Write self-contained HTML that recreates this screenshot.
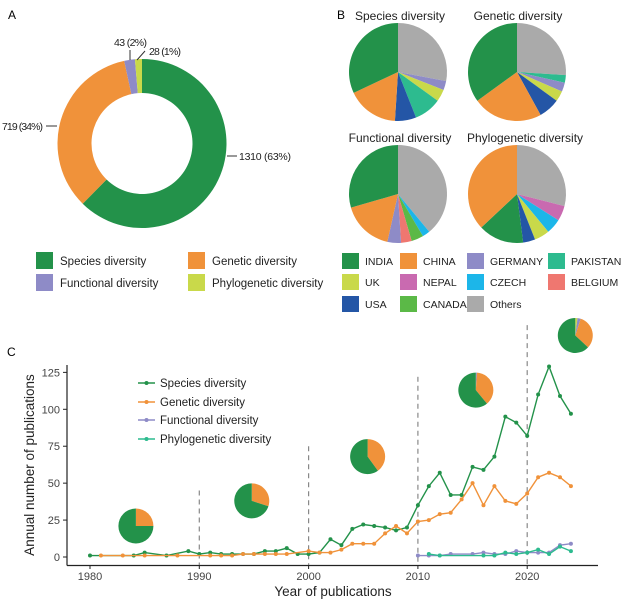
<!DOCTYPE html>
<html><head><meta charset="utf-8"><style>
body{margin:0;background:#fff;font-family:"Liberation Sans",sans-serif;}
svg text{font-family:"Liberation Sans",sans-serif;}
</style></head><body>
<svg id="fig" width="622" height="601" viewBox="0 0 622 601" xmlns="http://www.w3.org/2000/svg">
<text x="8" y="19" font-size="12">A</text>
<text x="337" y="19" font-size="12">B</text>
<text x="7" y="356" font-size="12">C</text>
<g id="donut"></g>
<g id="donutLabels" font-size="10.5" fill="#222">
<line x1="227" y1="156" x2="237" y2="156" stroke="#333"/><text x="239" y="160" textLength="52">1310 (63%)</text>
<line x1="46" y1="126" x2="57" y2="126" stroke="#333"/><text x="2" y="130" textLength="41">719 (34%)</text>
<line x1="130" y1="50" x2="130" y2="60" stroke="#333"/><text x="114" y="46" textLength="33">43 (2%)</text>
<line x1="137" y1="60" x2="145" y2="51" stroke="#333"/><text x="149" y="55" textLength="32">28 (1%)</text>
</g>
<g id="legendA" font-size="11.5" fill="#222">
<rect x="36" y="252" width="17" height="17" fill="#23924a"/><text x="60" y="265">Species diversity</text>
<rect x="188" y="252" width="17" height="17" fill="#f0923a"/><text x="212" y="265">Genetic diversity</text>
<rect x="36" y="274" width="17" height="17" fill="#8e8bc7"/><text x="60" y="287">Functional diversity</text>
<rect x="188" y="274" width="17" height="17" fill="#c9d94a"/><text x="212" y="287">Phylogenetic diversity</text>
</g>
<g id="pies"></g>
<g font-size="12" fill="#222" text-anchor="middle">
<text x="400" y="20">Species diversity</text><text x="518" y="20">Genetic diversity</text>
<text x="400" y="142">Functional diversity</text><text x="525" y="142">Phylogenetic diversity</text>
</g>
<g id="legendB" font-size="10.5" fill="#222"></g>
<g id="lineChart"></g>
</svg>
<script>
const NS="http://www.w3.org/2000/svg";
const donutLabels=["Species diversity","Genetic diversity","Functional diversity","Phylogenetic diversity"];
const donutValues=[1310,719,43,28];
const donutColors=["#23924a","#f0923a","#8e8bc7","#c9d94a"];
const colorOf={INDIA:"#23924a",CHINA:"#f0923a",GERMANY:"#8e8bc7",PAKISTAN:"#2dbb8f",UK:"#c9d94a",NEPAL:"#c96ab0",CZECH:"#1cb6e9",BELGIUM:"#ef7770",USA:"#2456a6",CANADA:"#5bb947",Others:"#aaaaaa"};
const speciesCountries=["Others","GERMANY","UK","PAKISTAN","USA","CHINA","INDIA"];
const speciesShares=[28,3,4,9,7,17,32];
const geneticCountries=["Others","PAKISTAN","GERMANY","UK","USA","CHINA","INDIA"];
const geneticShares=[26,2.5,3,3.5,7,23,35];
const functionalCountries=["Others","CZECH","CANADA","BELGIUM","GERMANY","CHINA","INDIA"];
const functionalShares=[39,2.5,4,3.5,4.5,17,29.5];
const phyloCountries=["Others","NEPAL","CZECH","UK","USA","INDIA","CHINA"];
const phyloShares=[29,5,5,5,4,15,37];
const legendBItems=["INDIA","CHINA","GERMANY","PAKISTAN","UK","NEPAL","CZECH","BELGIUM","USA","CANADA","Others"];
const speciesYears=[1980,1984,1985,1987,1989,1990,1991,1992,1993,1994,1995,1996,1997,1998,1999,2000,2001,2002,2003,2004,2005,2006,2007,2008,2009,2010,2011,2012,2013,2014,2015,2016,2017,2018,2019,2020,2021,2022,2023,2024];
const speciesCounts=[1,1,3,1,4,2,3,2,2,2,2,4,4,6,2,2,3,12,8,19,22,21,20,18,20,35,48,57,42,42,61,59,68,95,91,82,110,129,109,97];
const geneticYears=[1981,1983,1985,1988,1991,1992,1993,1994,1995,1996,1997,1998,2000,2001,2002,2003,2004,2005,2006,2007,2008,2009,2010,2011,2012,2013,2014,2015,2016,2017,2018,2019,2020,2021,2022,2023,2024];
const geneticCounts=[1,1,1,1,1,1,1,2,2,2,2,2,4,3,3,5,9,9,9,16,21,16,24,25,29,30,39,50,35,48,38,36,43,54,57,54,48];
const functionalYears=[2010,2011,2012,2013,2015,2016,2017,2018,2019,2020,2021,2022,2023,2024];
const functionalCounts=[1,1,1,2,2,3,2,2,4,3,3,3,8,9];
const phyloYears=[2011,2012,2016,2017,2018,2019,2020,2021,2022,2023,2024];
const phyloCounts=[2,1,1,1,3,2,3,5,2,7,4];
const yTicks=[0,25,50,75,100,125];
const xTicks=[1980,1990,2000,2010,2020];
const decadeMarks=[1990,2000,2010,2020];
const decadeTop=[45,75,122,157];
const piePosYear=[1984.2,1994.8,2005.4,2015.3,2024.4];
const piePosVal=[21,38,68,113,150];
const decadeSpecies=[75,70,60,61,63];
const decadeGenetic=[25,30,40,38,32];
const decadeFunctional=[0,0,0,1,3];
const decadePhylo=[0,0,0,0,2];

function el(tag,attrs,parent){const e=document.createElementNS(NS,tag);for(const k in attrs)e.setAttribute(k,attrs[k]);parent.appendChild(e);return e;}
function arc(cx,cy,r,ri,a0,a1){
 const p=(a,rr)=>[cx+rr*Math.sin(a),cy-rr*Math.cos(a)];
 const large=(a1-a0)>Math.PI?1:0;
 const [x0,y0]=p(a0,r),[x1,y1]=p(a1,r);
 if(ri>0){const [x2,y2]=p(a1,ri),[x3,y3]=p(a0,ri);
  return `M${x0},${y0}A${r},${r} 0 ${large} 1 ${x1},${y1}L${x2},${y2}A${ri},${ri} 0 ${large} 0 ${x3},${y3}Z`;}
 if(a1-a0>=2*Math.PI-1e-6)return `M${cx-r},${cy}a${r},${r} 0 1 0 ${2*r},0a${r},${r} 0 1 0 ${-2*r},0`;
 return `M${cx},${cy}L${x0},${y0}A${r},${r} 0 ${large} 1 ${x1},${y1}Z`;
}
function pie(parent,cx,cy,r,ri,vals,cols,names,prefix){
 const tot=vals.reduce((a,b)=>a+b,0);let a=0;
 vals.forEach((v,i)=>{if(v<=0)return;const a1=a+v/tot*2*Math.PI;
  const s=el("path",{d:arc(cx,cy,r,ri,a,a1),fill:cols[i]},parent);
  
  
  a=a1;});
}
pie(document.getElementById("donut"),142,143.5,84.5,50.5,donutValues,donutColors,donutLabels,"donut");
const pg=document.getElementById("pies");
pie(pg,398,72,49,0,speciesShares,speciesCountries.map(c=>colorOf[c]),speciesCountries,"species-pie");
pie(pg,517,72,49,0,geneticShares,geneticCountries.map(c=>colorOf[c]),geneticCountries,"genetic-pie");
pie(pg,398,194,49,0,functionalShares,functionalCountries.map(c=>colorOf[c]),functionalCountries,"functional-pie");
pie(pg,517,194,49,0,phyloShares,phyloCountries.map(c=>colorOf[c]),phyloCountries,"phylogenetic-pie");
const lb=document.getElementById("legendB");
const colX=[342,400,467,548],rowY=[253,274,296];
legendBItems.forEach((n,i)=>{const c=i%4,r=Math.floor(i/4);
 const g=el("g",{},lb);
 
 
 el("rect",{x:colX[c],y:rowY[r],width:17,height:16,fill:colorOf[n]},g);
 const t=el("text",{x:colX[c]+23,y:rowY[r]+12},g);t.textContent=n;});
const lc=document.getElementById("lineChart");
const xS=y=>90+(y-1980)*10.93;
const yS=v=>557-v*1.477;
el("line",{x1:67,y1:365,x2:67,y2:565.5,stroke:"#222","stroke-width":1.2},lc);
el("line",{x1:67,y1:565.5,x2:598,y2:565.5,stroke:"#222","stroke-width":1.2},lc);
yTicks.forEach(v=>{el("line",{x1:63,x2:67,y1:yS(v),y2:yS(v),stroke:"#222"},lc);
 const t=el("text",{x:60,y:yS(v)+4,"font-size":11,fill:"#444","text-anchor":"end"},lc);t.textContent=v;
 });
xTicks.forEach(v=>{el("line",{x1:xS(v),x2:xS(v),y1:565.5,y2:569,stroke:"#222"},lc);
 const t=el("text",{x:xS(v),y:580,"font-size":11,fill:"#444","text-anchor":"middle"},lc);t.textContent=v;
 });
decadeMarks.forEach((d,i)=>{const l=el("line",{x1:xS(d),x2:xS(d),y1:yS(decadeTop[i]),y2:565,stroke:"#888","stroke-width":1.2,"stroke-dasharray":"5,4"},lc);
 });
const xt=el("text",{x:333,y:596,"font-size":13.5,fill:"#222","text-anchor":"middle"},lc);xt.textContent="Year of publications";

const yt=el("text",{x:0,y:0,"font-size":13.5,fill:"#222","text-anchor":"middle",transform:"translate(34,465) rotate(-90)"},lc);yt.textContent="Annual number of publications";

piePosYear.forEach((py,i)=>{const g=el("g",{},lc);
 
 pie(g,xS(py),yS(piePosVal[i]),17.5,0,[decadePhylo[i],decadeFunctional[i],decadeGenetic[i],decadeSpecies[i]],[donutColors[3],donutColors[2],donutColors[1],donutColors[0]],[donutLabels[3],donutLabels[2],donutLabels[1],donutLabels[0]],"decade-pie");});
const series=[[speciesYears,speciesCounts,"#23924a","species"],[geneticYears,geneticCounts,"#f0923a","genetic"],[functionalYears,functionalCounts,"#8e8bc7","functional"],[phyloYears,phyloCounts,"#2dbb8f","phylogenetic"]];
series.forEach(([xs,ys,c,n])=>{const g=el("g",{},lc);
 
 el("polyline",{points:xs.map((x,i)=>xS(x)+","+yS(ys[i])).join(" "),fill:"none",stroke:c,"stroke-width":1.4},g);
 xs.forEach((x,i)=>{const p=el("circle",{cx:xS(x),cy:yS(ys[i]),r:2,fill:c},g);
  });});
const legY=[383,402,420,439];
series.forEach(([xs,ys,c,n],i)=>{const g=el("g",{},lc);
 
 el("line",{x1:138,x2:155,y1:legY[i],y2:legY[i],stroke:c,"stroke-width":1.4},g);
 el("circle",{cx:146.5,cy:legY[i],r:2,fill:c},g);
 const t=el("text",{x:160,y:legY[i]+4,"font-size":11.5,fill:"#222"},g);t.textContent=donutLabels[i];});
</script>
</body></html>
